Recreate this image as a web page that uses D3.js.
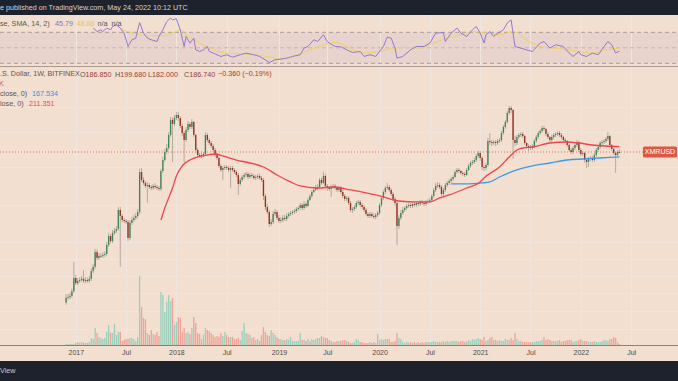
<!DOCTYPE html>
<html><head><meta charset="utf-8">
<script src="https://cdn.jsdelivr.net/npm/d3@7"></script>
<style>html,body{margin:0;padding:0;background:#f2dfcf;overflow:hidden}svg{display:block}</style>
</head><body><svg id="c" width="678" height="381"></svg>
<script>
// ---- DATA (weekly XMR/USD, Bitfinex) ----
const startWeek = "2016-11-28";
const opens = [6.2,6.9,7.0,7.2,8.0,10.8,9.6,10.1,10.3,10.6,
10.1,10.3,10.1,10.6,12.6,13.9,19.4,17.0,17.8,17.8,
18.2,18.6,22.8,27.9,24.9,29.9,31.3,32.7,50.3,43.9,
40.1,39.2,38.3,26.7,37.5,40.1,42.0,43.9,48.0,118.8,
99.2,92.7,86.6,88.5,84.6,82.7,86.6,84.6,82.7,80.9,
121.5,155.8,186.7,204.4,274.3,385.2,351.9,403.0,431.4,403.0,
336.3,287.0,245.0,307.2,351.9,328.8,368.2,274.3,195.4,174.5,
170.6,174.5,178.5,274.3,245.0,228.9,213.9,195.4,174.5,163.1,
136.1,124.3,130.1,133.0,130.1,124.3,130.1,124.3,118.8,111.0,
90.6,99.2,106.1,111.0,113.6,106.1,111.0,108.6,103.8,106.1,
108.6,103.8,99.2,69.0,53.8,48.0,36.6,38.3,45.9,48.0,
42.0,39.2,40.1,42.0,41.0,43.9,45.9,47.0,48.0,49.1,
51.4,52.6,56.3,52.6,57.6,55.0,63.0,69.0,75.6,79.1,
82.7,84.6,99.2,92.7,108.6,86.6,82.7,80.9,84.6,86.6,
82.7,79.1,82.7,75.6,69.0,64.5,66.0,58.9,50.3,51.4,
53.8,58.9,60.3,56.3,53.8,50.3,45.9,43.9,45.9,43.9,
42.9,44.9,47.0,56.3,66.0,75.6,82.7,84.6,79.1,72.2,
64.5,58.9,35.0,42.0,47.0,50.3,52.6,55.0,56.3,55.0,
57.6,56.3,58.9,57.6,60.3,58.9,57.6,60.3,61.6,63.0,
69.0,79.1,86.6,88.5,84.6,72.2,79.1,88.5,92.7,96.9,
101.4,106.1,118.8,124.3,121.5,116.2,113.6,111.0,124.3,136.1,
145.6,149.0,155.8,170.6,182.6,163.1,133.0,130.1,139.2,239.5,
234.1,228.9,234.1,228.9,239.5,245.0,287.0,328.8,368.2,451.3,
505.4,483.0,245.0,228.9,262.2,274.3,280.6,268.2,228.9,213.9,
209.1,204.4,213.9,239.5,262.2,287.0,300.3,321.4,314.2,280.6,
262.2,245.0,262.2,274.3,280.6,287.0,274.3,262.2,245.0,239.5,
218.8,195.4,186.7,204.4,218.8,234.1,195.4,178.5,182.6,155.8,
149.0,159.4,163.1,155.8,174.5,195.4,209.1,228.9,234.1,239.5,
250.6,268.2,218.8,199.9,182.6,174.5,186.85];
const highs = [7.5,7.5,7.7,8.5,15.5,11.6,10.8,11.0,11.3,12.9,
11.0,10.9,11.3,13.5,14.8,20.8,20.6,18.8,19.0,19.4,
19.8,24.4,29.9,29.2,32.0,33.5,35.0,53.8,53.8,45.9,
42.0,41.0,40.1,40.1,42.9,44.9,47.0,51.4,127.2,130.1,
106.1,97.0,94.8,92.7,88.5,90.6,92.7,88.5,86.6,127.2,
166.8,199.9,223.8,293.6,412.3,412.3,431.4,461.7,461.7,421.7,
351.9,300.3,328.8,376.6,368.2,394.0,376.6,280.6,204.4,182.6,
182.6,186.7,293.6,287.0,256.3,239.5,223.8,204.4,182.6,170.6,
142.4,136.1,139.2,139.2,136.1,136.1,136.1,130.1,124.3,116.2,
103.8,111.0,116.2,118.8,118.8,116.2,116.2,113.6,111.0,113.6,
113.6,108.6,103.8,72.2,57.6,50.3,41.0,49.1,51.4,50.3,
44.9,42.9,44.9,44.9,46.9,48.0,49.1,50.3,51.4,53.8,
55.0,58.9,58.9,61.6,60.3,66.0,72.2,79.1,84.6,88.5,
90.6,103.8,103.8,118.8,113.6,90.6,86.6,88.5,90.6,90.6,
86.6,86.6,86.6,79.1,72.2,69.0,69.0,61.6,53.8,56.3,
61.6,63.0,63.0,58.9,56.3,52.6,48.0,48.0,48.0,46.9,
47.0,49.1,58.9,69.0,79.1,86.6,92.7,88.5,82.7,75.6,
67.5,61.6,44.9,50.3,53.8,55.0,57.6,58.9,58.9,60.3,
60.3,61.6,61.6,63.0,63.0,61.6,63.0,64.5,66.0,72.2,
82.7,92.7,94.8,92.7,88.5,82.7,92.7,96.9,101.4,106.1,
111.0,124.3,130.1,130.1,124.3,121.5,118.8,130.1,142.4,152.4,
155.8,163.1,178.5,191.0,191.0,170.6,139.2,145.6,256.3,287.0,
245.0,245.0,245.0,250.6,256.3,300.3,344.0,385.2,472.2,528.8,
528.8,494.1,268.2,274.3,287.0,293.6,293.6,274.3,234.1,223.8,
218.8,223.8,250.6,274.3,300.3,314.2,336.3,336.3,321.4,293.6,
268.2,274.3,287.0,293.6,300.3,300.3,287.0,268.2,256.3,245.0,
223.8,204.4,213.9,228.9,245.0,239.5,204.4,191.0,186.7,163.1,
166.8,170.6,170.6,182.6,204.4,218.8,239.5,245.0,250.6,262.2,
293.6,274.3,223.8,204.4,186.7,195.4,199.68];
const lows = [5.9,6.6,6.7,6.9,7.7,9.2,9.2,9.7,9.9,9.6,
9.6,9.7,9.7,10.1,12.0,13.2,16.2,16.2,17.0,17.0,
17.4,17.8,21.8,23.8,23.8,28.6,29.9,31.3,13.9,38.3,
37.5,36.6,24.9,25.5,35.8,38.3,40.1,42.0,45.9,94.8,
88.5,82.7,58.9,80.9,79.1,79.1,80.9,79.1,77.3,77.3,
116.2,149.0,178.5,195.4,262.2,149.0,336.3,385.2,376.6,321.4,
268.2,149.0,234.1,293.6,314.2,314.2,262.2,182.6,166.8,163.1,
163.1,166.8,170.6,234.1,218.8,204.4,186.7,166.8,155.8,130.1,
118.8,99.2,124.3,124.3,118.8,82.7,118.8,113.6,106.1,70.6,
86.6,94.8,101.4,106.1,101.4,101.4,103.8,99.2,99.2,101.4,
99.2,94.8,63.0,50.3,45.9,34.2,35.0,36.6,43.9,40.1,
37.5,37.5,38.3,39.2,39.2,42.0,43.9,44.9,45.9,47.0,
49.1,50.3,50.3,50.3,52.6,53.8,61.6,66.0,73.9,77.3,
79.1,82.7,88.5,90.6,82.7,77.3,77.3,67.5,80.9,79.1,
75.6,75.6,72.2,66.0,61.6,61.6,56.3,48.0,47.0,49.1,
51.4,56.3,53.8,51.4,48.0,43.9,42.0,42.0,42.0,41.0,
41.0,42.9,44.9,53.8,63.0,72.2,79.1,75.6,69.0,61.6,
55.0,22.8,32.7,40.1,44.9,48.0,50.3,52.6,52.6,52.6,
53.8,53.8,55.0,55.0,56.3,55.0,55.0,57.6,58.9,60.3,
66.0,75.6,82.7,80.9,69.0,69.0,75.6,84.6,88.5,92.7,
96.9,103.8,113.6,116.2,111.0,108.6,106.1,108.6,121.5,130.1,
139.2,142.4,149.0,163.1,152.4,124.3,121.5,124.3,133.0,218.8,
213.9,218.8,213.9,218.8,228.9,234.1,274.3,314.2,351.9,431.4,
451.3,159.4,213.9,218.8,250.6,262.2,256.3,218.8,199.9,191.0,
195.4,195.4,204.4,228.9,250.6,274.3,287.0,300.3,268.2,250.6,
234.1,234.1,250.6,262.2,268.2,262.2,250.6,234.1,228.9,209.1,
186.7,178.5,178.5,195.4,209.1,186.7,170.6,170.6,145.6,130.1,
133.0,152.4,149.0,149.0,166.8,186.7,199.9,218.8,223.8,228.9,
239.5,209.1,191.0,174.5,116.2,170.6,182.0];
const closes = [6.9,7.0,7.2,8.0,10.8,9.6,10.1,10.3,10.6,10.1,
10.3,10.1,10.6,12.6,13.9,19.4,17.0,17.8,17.8,18.2,
18.6,22.8,27.9,24.9,29.9,31.3,32.7,50.3,43.9,40.1,
39.2,38.3,26.7,37.5,40.1,42.0,43.9,48.0,118.8,99.2,
92.7,86.6,88.5,84.6,82.7,86.6,84.6,82.7,80.9,121.5,
155.8,186.7,204.4,274.3,385.2,351.9,403.0,431.4,403.0,336.3,
287.0,245.0,307.2,351.9,328.8,368.2,274.3,195.4,174.5,170.6,
174.5,178.5,274.3,245.0,228.9,213.9,195.4,174.5,163.1,136.1,
124.3,130.1,133.0,130.1,124.3,130.1,124.3,118.8,111.0,90.6,
99.2,106.1,111.0,113.6,106.1,111.0,108.6,103.8,106.1,108.6,
103.8,99.2,69.0,53.8,48.0,36.6,38.3,45.9,48.0,42.0,
39.2,40.1,42.0,41.0,43.9,45.9,47.0,48.0,49.1,51.4,
52.6,56.3,52.6,57.6,55.0,63.0,69.0,75.6,79.1,82.7,
84.6,99.2,92.7,108.6,86.6,82.7,80.9,84.6,86.6,82.7,
79.1,82.7,75.6,69.0,64.5,66.0,58.9,50.3,51.4,53.8,
58.9,60.3,56.3,53.8,50.3,45.9,43.9,45.9,43.9,42.9,
44.9,47.0,56.3,66.0,75.6,82.7,84.6,79.1,72.2,64.5,
58.9,35.0,42.0,47.0,50.3,52.6,55.0,56.3,55.0,57.6,
56.3,58.9,57.6,60.3,58.9,57.6,60.3,61.6,63.0,69.0,
79.1,86.6,88.5,84.6,72.2,79.1,88.5,92.7,96.9,101.4,
106.1,118.8,124.3,121.5,116.2,113.6,111.0,124.3,136.1,145.6,
149.0,155.8,170.6,182.6,163.1,133.0,130.1,139.2,239.5,234.1,
228.9,234.1,228.9,239.5,245.0,287.0,328.8,368.2,451.3,505.4,
483.0,245.0,228.9,262.2,274.3,280.6,268.2,228.9,213.9,209.1,
204.4,213.9,239.5,262.2,287.0,300.3,321.4,314.2,280.6,262.2,
245.0,262.2,274.3,280.6,287.0,274.3,262.2,245.0,239.5,218.8,
195.4,186.7,204.4,218.8,234.1,195.4,178.5,182.6,155.8,149.0,
159.4,163.1,155.8,174.5,195.4,209.1,228.9,234.1,239.5,250.6,
268.2,218.8,199.9,182.6,174.5,186.85,186.74];
const volumes = [10,10,10,10,10,20,30,20,30,20,
20,20,30,70,60,170,120,80,70,60,
70,130,200,120,120,210,100,130,130,40,
50,60,60,70,70,60,40,80,690,380,
270,260,120,100,150,110,100,130,90,530,
500,330,430,500,440,470,200,230,280,270,
130,170,120,130,110,170,280,220,120,110,
60,100,170,150,140,120,100,80,90,80,
120,90,130,100,80,80,80,60,60,70,
50,140,220,120,110,100,70,80,50,60,
40,100,180,130,100,90,150,120,100,80,
60,60,50,50,60,50,80,40,40,40,
40,120,50,50,40,60,40,60,50,60,
70,70,90,80,70,70,50,40,30,30,
40,40,40,50,50,40,30,20,20,30,
60,50,30,30,20,20,20,30,20,30,
20,110,50,60,50,60,60,60,30,30,
40,120,70,60,30,20,30,20,30,20,
30,20,30,20,30,20,30,30,30,30,
40,30,30,30,30,40,30,40,30,40,
40,40,40,30,40,40,30,40,50,40,
60,50,60,70,60,50,80,40,50,70,
80,50,50,40,50,40,40,60,50,50,
70,50,120,60,40,40,30,30,30,30,
30,30,30,40,40,40,50,80,50,60,
50,40,40,40,40,50,30,40,40,50,
50,50,30,40,40,50,60,40,40,40,
30,30,30,40,30,30,30,40,50,50,
40,60,60,80,70,30,10];
// moving averages (bar index -> value)
const ma50Bars = [49,50,51,53,55,57,60,64,68,73,77,81,88,95,102,109,116,121,130,138,147,155,164,172,181,188,193,198,207,214,216,224,229,233,236,241,250,259,265,272,279,286];
const ma50Values = [40.1,45.9,52.6,66.0,82.7,108.6,136.1,155.8,166.8,174.5,178.5,170.6,155.8,145.6,133.0,111.0,94.8,86.6,82.7,84.6,79.1,73.9,67.5,61.6,60.3,60.3,66.0,70.6,82.7,94.8,103.8,133.0,166.8,195.4,204.4,209.1,228.9,234.1,228.9,218.8,213.9,211.351];
const ma200Bars = [199,207,215,219,224,233,241,250,259,267,276,286];
const ma200Values = [90.6,90.6,92.7,94.8,106.1,124.3,136.1,145.6,155.8,159.4,163.1,167.534];
// RSI(14) and its SMA(14)
const rsiBars = [14,16,18,19,21,23,24,26,28,30,32,34,36,38,40,42,44,47,48,50,52,54,55,57,59,61,62,64,66,67,69,71,73,74,76,80,83,86,90,93,97,100,103,105,108,111,114,117,121,123,125,128,130,133,135,136,139,142,145,148,152,154,157,160,164,166,168,170,171,174,178,181,185,188,191,195,196,199,202,204,207,210,212,214,216,217,219,221,222,226,228,230,232,235,238,241,245,247,250,253,257,260,262,265,266,269,272,275,278,280,282,284,286];
const rsiValues = [75.4,71.0,73.2,71.0,75.4,73.2,77.5,79.7,75.4,69.0,51.7,60.3,62.5,82.6,69.0,62.5,60.3,58.1,64.6,73.2,83.9,88.3,86.1,87.4,73.2,51.7,64.6,56.1,62.5,47.4,45.2,47.4,51.7,45.2,43.2,38.8,41.0,38.0,41.0,43.2,41.0,38.8,34.5,31.0,34.5,35.4,36.7,38.8,41.0,49.6,51.7,60.3,58.1,66.8,58.1,56.1,51.7,51.3,47.4,43.9,45.2,38.8,41.0,38.8,51.7,63.8,62.5,49.6,36.7,38.8,47.4,51.7,51.7,56.1,69.0,69.7,58.1,69.0,75.4,69.0,64.6,73.2,77.5,69.0,56.1,66.8,71.0,64.6,66.8,73.2,81.9,86.1,51.7,49.6,47.4,45.2,56.1,58.1,49.6,53.9,51.7,43.2,38.8,45.2,41.0,38.8,43.2,41.0,51.7,58.1,53.9,43.2,45.79];
const smaBars = [27,28,35,42,49,55,59,62,69,76,83,90,97,104,111,117,124,131,138,141,148,155,162,169,176,183,190,197,204,210,217,224,231,238,245,252,259,265,272,279,286];
const smaValues = [77.5,75.4,69.0,65.5,65.5,69.0,73.2,66.8,56.1,47.4,43.2,42.3,41.0,38.8,35.4,38.8,45.2,51.7,56.8,56.1,47.4,43.2,45.2,49.6,50.4,49.6,56.1,62.5,66.8,71.0,69.0,66.8,71.0,60.3,51.7,49.6,47.4,45.2,43.2,47.4,48.88];
const rsiLevels = [70, 50, 30];
// time axis
const tickDates = ["2017-01-02","2017-07-03","2018-01-01","2018-07-02","2019-01-07","2019-07-01","2020-01-06","2020-07-06","2021-01-04","2021-07-05","2022-01-03","2022-07-04"];
const tickLabels = ["2017","Jul","2018","Jul","2019","Jul","2020","Jul","2021","Jul","2022","Jul"];
const gridPrices = [517, 293.6, 133.0, 56.3, 24.4, 16.6, 11.3, 7.7, 5.1, 3.4];
const lastPrice = 186.74;

// ---- DRAW ----
const W = 678, H = 381;
const FONT = "'Liberation Sans', Arial, sans-serif";
const svg = d3.select("#c");
const parse = d3.utcParse("%Y-%m-%d");
const t0 = parse(startWeek);
const x = d3.scaleUtc().domain([parse("2016-11-28"), parse("2022-07-04")]).range([66.1, 631.1]);
const y = d3.scaleLog().domain([6.56, 540.9]).range([300, 105]);
const yVol = d3.scaleLinear().domain([0, 690]).range([345, 276]);
const yRsi = d3.scaleLinear().domain([30, 70]).range([63.3, 32.3]);
const xb = i => x(d3.utcDay.offset(t0, 7 * i));

const defs = svg.append("defs");
defs.append("clipPath").attr("id", "mainClip").append("rect").attr("x", 0).attr("y", 67.5).attr("width", W).attr("height", 345 - 67.5);
defs.append("clipPath").attr("id", "rsiClip").append("rect").attr("x", 0).attr("y", 15).attr("width", W).attr("height", 51);

svg.append("rect").attr("width", W).attr("height", H).attr("fill", "#f2dfcf");
// RSI band
svg.append("rect").attr("x", 0).attr("width", W).attr("y", yRsi(70)).attr("height", yRsi(30) - yRsi(70)).attr("fill", "#e8d3cd");

// grid
const gridCol = "#efe6e0";
svg.append("g").selectAll("line").data(tickDates).join("line")
  .attr("x1", d => Math.round(x(parse(d))) + 0.5).attr("x2", d => Math.round(x(parse(d))) + 0.5)
  .attr("y1", 15).attr("y2", 345).attr("stroke", gridCol).attr("stroke-width", 1);
svg.append("g").attr("clip-path", "url(#mainClip)").selectAll("line").data(gridPrices).join("line")
  .attr("x1", 0).attr("x2", W).attr("y1", d => Math.round(y(d)) + 0.5).attr("y2", d => Math.round(y(d)) + 0.5)
  .attr("stroke", gridCol).attr("stroke-width", 1);

// RSI levels
svg.append("g").selectAll("line").data(rsiLevels).join("line")
  .attr("x1", 0).attr("x2", W).attr("y1", d => yRsi(d)).attr("y2", d => yRsi(d))
  .attr("stroke", d => d === 50 ? "#c4b6b3" : "#a89c99").attr("stroke-width", 1).attr("stroke-dasharray", "4,3");

// RSI lines
const rsiG = svg.append("g").attr("clip-path", "url(#rsiClip)");
rsiG.append("path").datum(smaBars.map((b, i) => [xb(b), yRsi(smaValues[i])]))
  .attr("d", d3.line().curve(d3.curveMonotoneX)).attr("fill", "none").attr("stroke", "#efd35c").attr("stroke-width", 1);
rsiG.append("path").datum(rsiBars.map((b, i) => [xb(b), yRsi(rsiValues[i])]))
  .attr("d", d3.line()).attr("fill", "none").attr("stroke", "#9579d2").attr("stroke-width", 1);

// pane separator
svg.append("line").attr("x1", 0).attr("x2", W).attr("y1", 66.5).attr("y2", 66.5).attr("stroke", "#a89a92").attr("stroke-width", 1.2);

const main = svg.append("g").attr("clip-path", "url(#mainClip)");
// volume
const bw = 1.35;
main.append("g").selectAll("rect").data(volumes).join("rect")
  .attr("x", (d, i) => xb(i) - bw / 2).attr("width", bw)
  .attr("y", d => yVol(d)).attr("height", d => 345 - yVol(d))
  .attr("fill", (d, i) => closes[i] >= opens[i] ? "#9ecfbd" : "#f2a397");

// last price dotted line
main.append("line").attr("x1", 0).attr("x2", W).attr("y1", y(lastPrice)).attr("y2", y(lastPrice))
  .attr("stroke", "#e2705f").attr("stroke-width", 1).attr("stroke-dasharray", "1,2");

// candles
main.append("g").selectAll("line").data(closes).join("line")
  .attr("x1", (d, i) => xb(i)).attr("x2", (d, i) => xb(i))
  .attr("y1", (d, i) => y(highs[i])).attr("y2", (d, i) => y(lows[i]))
  .attr("stroke", "#b0a49b").attr("stroke-width", 0.9);
main.append("g").selectAll("rect").data(closes).join("rect")
  .attr("x", (d, i) => xb(i) - bw / 2).attr("width", bw)
  .attr("y", (d, i) => Math.min(y(opens[i]), y(d)))
  .attr("height", (d, i) => Math.max(1, Math.abs(y(opens[i]) - y(d))))
  .attr("fill", (d, i) => d >= opens[i] ? "#3f8657" : "#96301f");

// moving averages
main.append("path").datum(ma200Bars.map((b, i) => [xb(b), y(ma200Values[i])]))
  .attr("d", d3.line().curve(d3.curveMonotoneX)).attr("fill", "none").attr("stroke", "#3d9ae8").attr("stroke-width", 1.3);
main.append("path").datum(ma50Bars.map((b, i) => [xb(b), y(ma50Values[i])]))
  .attr("d", d3.line().curve(d3.curveMonotoneX)).attr("fill", "none").attr("stroke", "#f0434e").attr("stroke-width", 1.3);

// time axis
const axis = d3.axisBottom(x).tickValues(tickDates.map(parse)).tickFormat((d, i) => tickLabels[i]).tickSize(0).tickPadding(5.5);
const ag = svg.append("g").attr("transform", "translate(0,345)").call(axis);
ag.select(".domain").remove();
ag.selectAll("text").attr("font-family", FONT).attr("font-size", 7).attr("fill", "#4e4a48");
svg.append("line").attr("x1", 0).attr("x2", W).attr("y1", 345.5).attr("y2", 345.5).attr("stroke", "#8a807a").attr("stroke-width", 1);

// dark bars
svg.append("rect").attr("x", 0).attr("y", 0).attr("width", W).attr("height", 15).attr("fill", "#1e222d");
svg.append("rect").attr("x", 0).attr("y", 361).attr("width", W).attr("height", 20).attr("fill", "#1e222d");
svg.append("text").attr("x", 0).attr("y", 8).attr("dominant-baseline", "middle").attr("font-family", FONT).attr("font-size", 7.2)
  .attr("fill", "#d1d4dc").text("e published on TradingView.com, May 24, 2022 10:12 UTC");
svg.append("text").attr("x", 0).attr("y", 371.5).attr("dominant-baseline", "middle").attr("font-family", FONT).attr("font-size", 7.2)
  .attr("fill", "#c8cbd3").text("View");

// legends
function txt(xp, yp, s, col) {
  return svg.append("text").attr("x", xp).attr("y", yp).attr("dominant-baseline", "middle")
    .attr("font-family", FONT).attr("font-size", 7.2).attr("fill", col).text(s);
}
const gray = "#5a5654", valRed = "#a23c31";
txt(0, 24, "se, SMA, 14, 2)", gray);
txt(55, 24, "45.79", "#8a6ccf");
txt(76.5, 24, "48.88", "#e6c64a");
txt(97.5, 24, "n/a", gray);
txt(111.5, 24, "n/a", gray);

txt(0, 74.5, ".S. Dollar, 1W, BITFINEX", gray);
[["O", "186.850", 80], ["H", "199.680", 115], ["L", "182.000", 148], ["C", "186.740", 184]].forEach(([k, v, xp]) => {
  const t = txt(xp, 74.5, "", gray);
  t.append("tspan").text(k);
  t.append("tspan").attr("fill", valRed).text(v);
});
txt(218, 74.5, "\u22120.360 (\u22120.19%)", valRed);
txt(-1, 84.5, "K", "#e8474a");
txt(0, 94.5, "close, 0)", gray);
txt(32, 94.5, "167.534", "#3a94de");
txt(0, 104, "lose, 0)", gray);
txt(29, 104, "211.351", "#ee4652");

// price label
const ly = y(lastPrice);
svg.append("rect").attr("x", 643).attr("y", ly - 5.5).attr("width", 34).attr("height", 11).attr("rx", 1.5).attr("fill", "#dc5844");
svg.append("text").attr("x", 660).attr("y", ly + 0.3).attr("text-anchor", "middle").attr("dominant-baseline", "middle")
  .attr("font-family", FONT).attr("font-size", 7).attr("fill", "#ffffff").text("XMRUSD");
</script>
</body></html>
